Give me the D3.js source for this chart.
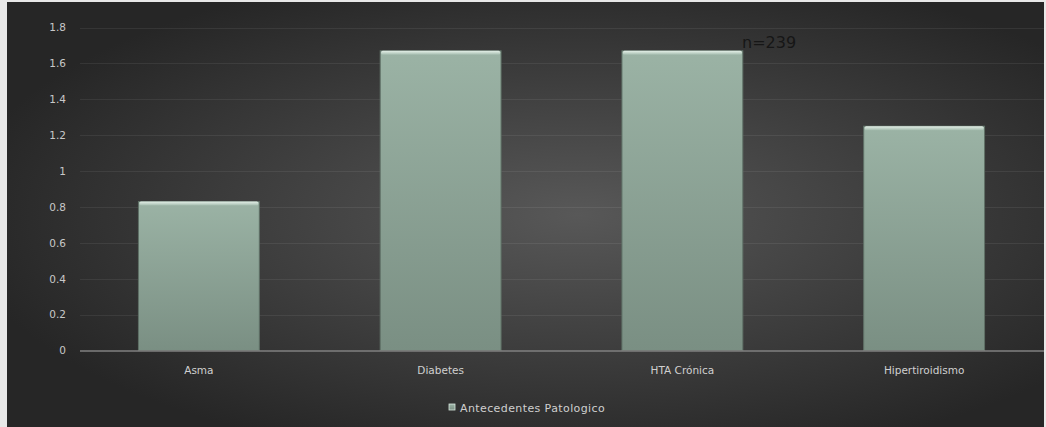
<!DOCTYPE html>
<html><head><meta charset="utf-8">
<script src="https://cdn.jsdelivr.net/npm/d3@7"></script>
<style>html,body{margin:0;padding:0;background:#fff;overflow:hidden}svg{display:block}</style>
</head><body>
<script>
const categories = ["Asma", "Diabetes", "HTA Crónica", "Hipertiroidismo"];
const values = [0.83, 1.67, 1.67, 1.25];
const yTicks = [0, 0.2, 0.4, 0.6, 0.8, 1, 1.2, 1.4, 1.6, 1.8];
const seriesName = "Antecedentes Patologico";
const note = "n=239";

const W = 1046, H = 427;
const FONT = "DejaVu Sans, Verdana, sans-serif";
const svg = d3.select("body").append("svg").attr("width", W).attr("height", H);
const defs = svg.append("defs");

const bg = defs.append("radialGradient").attr("id","bg").attr("cx","55%").attr("cy","50%").attr("r","60%");
bg.append("stop").attr("offset","0%").attr("stop-color","#585858");
bg.append("stop").attr("offset","100%").attr("stop-color","#262626");

const barG = defs.append("linearGradient").attr("id","bar").attr("x1",0).attr("y1",0).attr("x2",0).attr("y2",1);
barG.append("stop").attr("offset","0%").attr("stop-color","#9bb3a5");
barG.append("stop").attr("offset","100%").attr("stop-color","#7a8f83");

const topG = defs.append("linearGradient").attr("id","top").attr("x1",0).attr("y1",0).attr("x2",0).attr("y2",1);
topG.append("stop").attr("offset","0%").attr("stop-color","#e4f0e8");
topG.append("stop").attr("offset","100%").attr("stop-color","#a4bcae");

// frame
svg.append("rect").attr("x",0).attr("y",0).attr("width",W).attr("height",H).attr("fill","#e8e8e8");
svg.append("rect").attr("x",7).attr("y",2).attr("width",W-9).attr("height",H-2).attr("fill","url(#bg)");

const x0 = 78, x1 = 1045, yTop = 27.5, yBot = 350.5;
const x = d3.scaleBand().domain(categories).range([x0, x1]).paddingInner(0.5).paddingOuter(0.25);
const y = d3.scaleLinear().domain([0, 1.8]).range([yBot, yTop]);

// gridlines
svg.append("g").selectAll("line").data(yTicks.filter(d => d > 0)).join("line")
  .attr("x1", 80).attr("x2", 1044)
  .attr("y1", d => Math.round(y(d)) + 0.5).attr("y2", d => Math.round(y(d)) + 0.5)
  .attr("stroke", "#ffffff").attr("stroke-opacity", 0.07).attr("stroke-width", 1.2);

// y axis labels
const yAxis = d3.axisLeft(y).tickValues(yTicks).tickSize(0).tickPadding(0).tickFormat(d => String(d));
const ya = svg.append("g").attr("transform","translate(66,0)").call(yAxis);
ya.select(".domain").remove();
ya.selectAll("text").attr("fill","#c8c8c8").attr("font-family",FONT).attr("font-size",10.5);

// bars
const bars = svg.append("g").selectAll("g").data(categories).join("g");
bars.append("rect")
  .attr("x", d => x(d)).attr("width", x.bandwidth())
  .attr("y", (d,i) => y(values[i])).attr("height", (d,i) => yBot - y(values[i]))
  .attr("fill", "url(#bar)")
  .attr("stroke", "#5f7066").attr("stroke-width", 1);
bars.append("rect")
  .attr("x", d => x(d) + 1).attr("width", x.bandwidth() - 2)
  .attr("y", (d,i) => y(values[i])).attr("height", 4)
  .attr("fill", "url(#top)").attr("rx", 1.5);

// x axis
svg.append("line").attr("x1",80).attr("x2",1044).attr("y1",yBot+0.5).attr("y2",yBot+0.5)
  .attr("stroke","#808080").attr("stroke-width",1.5);
const xAxis = d3.axisBottom(x).tickSize(0).tickPadding(0);
const xa = svg.append("g").attr("transform",`translate(0,${yBot+23})`).call(xAxis);
xa.select(".domain").remove();
xa.selectAll("text").attr("fill","#d0d0d0").attr("font-family",FONT).attr("font-size",10.5).attr("dy","0");

// note
svg.append("text").attr("x",742).attr("y",48).text(note)
  .attr("fill","#161616").attr("font-family",FONT).attr("font-size",16);

// legend
const lg = svg.append("g").attr("transform","translate(449,404)");
lg.append("rect").attr("x",0).attr("y",0).attr("width",6).attr("height",6).attr("fill","url(#bar)").attr("stroke","#d8e8de").attr("stroke-width",0.8);
lg.append("text").attr("x",11).attr("y",8).text(seriesName)
  .attr("fill","#cfcfcf").attr("font-family",FONT).attr("font-size",11).attr("letter-spacing",0.4);
</script>
</body></html>
